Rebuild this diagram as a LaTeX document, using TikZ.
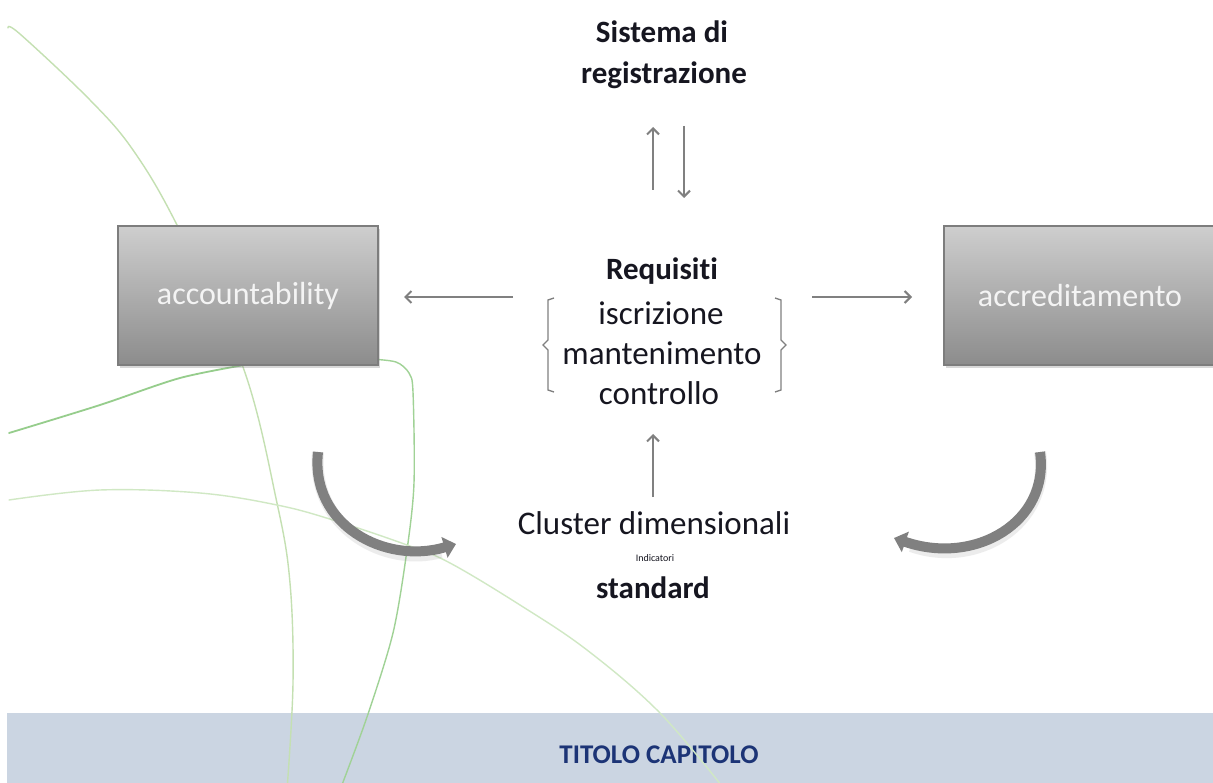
\documentclass[tikz,border=0pt]{standalone}
\usepackage{fontspec}
\setmainfont{Carlito}[RawFeature={-liga;-clig;-calt}]
\usetikzlibrary{arrows.meta,shadows}
\definecolor{arrowgray}{RGB}{128,128,128}
\definecolor{boxtop}{RGB}{206,206,206}
\definecolor{boxbot}{RGB}{140,140,140}
\definecolor{boxborder}{RGB}{125,125,125}
\definecolor{boxtext}{RGB}{244,244,244}
\definecolor{ink}{RGB}{22,22,32}
\definecolor{navy}{RGB}{28,52,118}
\definecolor{band}{RGB}{203,213,226}
\definecolor{gA}{RGB}{196,224,178}
\definecolor{gB}{RGB}{150,205,140}
\definecolor{gC}{RGB}{160,210,150}
\definecolor{gD}{RGB}{208,232,196}
\begin{document}
\begin{tikzpicture}[x=1pt,y=-1pt,
  gline/.style={line width=1.4pt, line cap=round},
  garrow/.style={draw=arrowgray, line width=2pt, -{Straight Barb[length=6pt,width=12pt]}},
  bigbox/.style={draw=boxborder, line width=1.2pt, top color=boxtop, bottom color=boxbot,
     minimum height=139pt, text=boxtext, font=\fontsize{32}{38}\selectfont,
     drop shadow={shadow xshift=2pt,shadow yshift=-3pt,opacity=0.3}},
  ctext/.style={text=ink, font=\fontsize{33}{40}\selectfont, inner sep=0pt},
  btext/.style={text=ink, font=\bfseries\fontsize{31}{38}\selectfont, inner sep=0pt},
  curvarrow/.style={draw=arrowgray, line width=10pt, -{Triangle[length=12pt,width=21pt]}},
  curvshadow/.style={draw=arrowgray, line width=12pt, opacity=0.15},
  bracket/.style={draw=arrowgray, line width=1.3pt}
]
\clip (0,0) rectangle (1213,783);
\fill[white] (0,0) rectangle (1213,783);

% bottom band
\fill[band] (7,713) rectangle (1213,783);
\node[text=navy, font=\bfseries\fontsize{27}{32}\selectfont, inner sep=0pt] (titolo) at (659,755) {TITOLO CAPITOLO};

% green decorative curves
\draw[gline, draw=gA] plot[smooth, tension=0.6] coordinates {(8,28) (20,34) (90,100) (133,150) (177,225) (243,367) (277,503) (290,583) (293,683) (287,790)};
\draw[gline, draw=gB, line width=1.8pt] plot[smooth] coordinates {(9,433) (100,405) (180,378) (250,364)};
\draw[gline, draw=gC] plot[smooth, tension=0.5] coordinates {(370,359) (396,362) (409,373) (413,392) (414,483) (407,550) (393,633) (367,717) (340,790)};
\draw[gline, draw=gD] plot[smooth, tension=0.6] coordinates {(9,500) (100,490) (200,493) (277,505) (333,520) (407,545) (450,563) (520,605) (587,650) (660,713) (725,790)};

% boxes
\node[bigbox, minimum width=260pt] (acc) at (248,295.5) {accountability};
\node[bigbox, minimum width=272pt] (accr) at (1080,295.5) {accreditamento};

% top text
\node[btext] (sis) at (662,32) {Sistema di};
\node[btext] (reg) at (664,75) {registrazione};
\coordinate (u1a) at (653,190); \coordinate (u1b) at (653,127);
\coordinate (d1a) at (684,126); \coordinate (d1b) at (684,198);
\draw[garrow] (u1a) -- (u1b);
\draw[garrow] (d1a) -- (d1b);

% centre group
\node[btext] (req) at (662,271) {Requisiti};
\node[ctext] (isc) at (661,313) {iscrizione};
\node[ctext] (man) at (662,353) {mantenimento};
\node[ctext] (con) at (659,393) {controllo};

% brackets
\draw[bracket] (554,298) -- (548,300) -- (548,340) -- (543,345) -- (548,350) -- (548,390) -- (554,392);
\draw[bracket] (775,298) -- (781,300) -- (781,340) -- (786,345) -- (781,350) -- (781,390) -- (775,392);

% side arrows
\coordinate (la) at (513,297); \coordinate (lb) at (404,297);
\coordinate (ra) at (812,297); \coordinate (rb) at (912,297);
\draw[garrow] (la) -- (lb);
\draw[garrow] (ra) -- (rb);

% bottom group
\coordinate (ca) at (653,497); \coordinate (cb) at (653,434);
\draw[garrow] (ca) -- (cb);
\node[ctext] (clu) at (654,523) {Cluster dimensionali};
\node[text=ink, font=\fontsize{10}{11}\selectfont, inner sep=0pt] (ind) at (655,558) {Indicatori};
\node[btext] (std) at (653,588) {standard};

% curved arrows
\coordinate (cl1) at (318,452); \coordinate (cl2) at (456,544);
\coordinate (cr1) at (1040,452); \coordinate (cr2) at (894,538);
\begin{scope}[shift={(1,3)}]
\draw[curvshadow] (cl1) .. controls (310,525) and (385,565) .. (440,549);
\draw[curvshadow] (cr1) .. controls (1050,522) and (975,566) .. (910,543);
\end{scope}
\draw[curvarrow] (cl1) .. controls (310,525) and (385,565) .. (cl2);
\draw[curvarrow] (cr1) .. controls (1050,522) and (975,566) .. (cr2);
\end{tikzpicture}
\end{document}
